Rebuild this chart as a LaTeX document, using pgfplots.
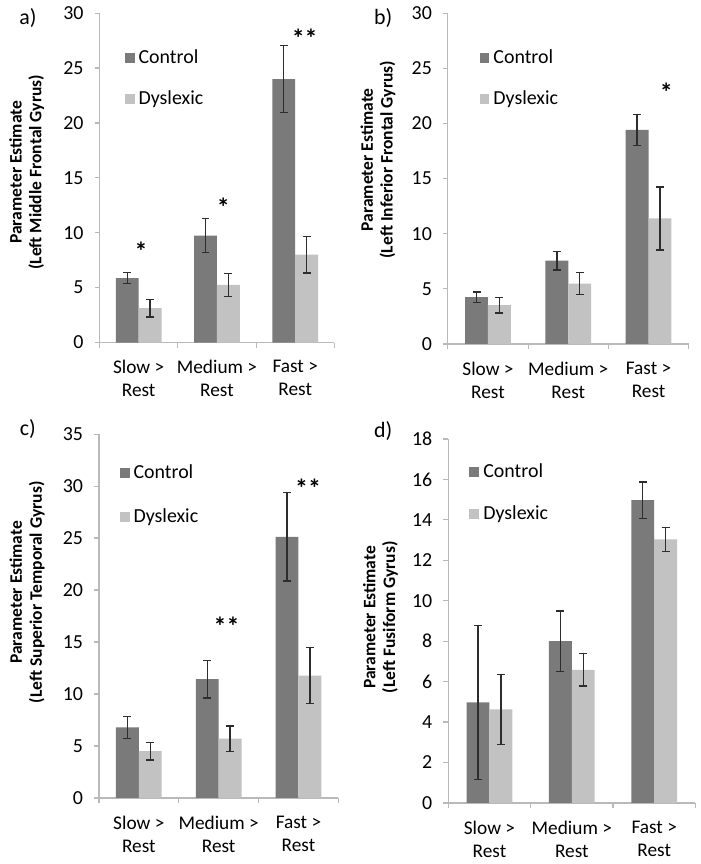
\documentclass[border=0pt]{standalone}
\usepackage{pgfplots}
\pgfplotsset{compat=1.18}
\usepackage{fontspec}
\setmainfont{Carlito}
\newfontfamily\labfont{Open Sans}
\definecolor{ctrl}{RGB}{122,122,122}
\definecolor{dysl}{RGB}{194,194,194}
\definecolor{axgray}{RGB}{185,185,185}
\definecolor{errc}{RGB}{45,45,45}

\tikzset{sigstar/.style={font=\bfseries\fontsize{13}{13}\selectfont, inner sep=0pt}}

\pgfplotsset{
  panel/.style={
    scale only axis,
    anchor=south west,
    axis x line*=bottom, axis y line*=left,
    axis line style={axgray, line width=0.6pt},
    xmin=0.5, xmax=3.5, ymin=0,
    xtick={0.5,1.5,2.5,3.5},
    x tick label as interval,
    xticklabels={{Slow >\\Rest},{Medium >\\Rest},{Fast >\\Rest}},
    x tick label style={align=center, font=\fontsize{9.7}{11.5}\selectfont, yshift=-3pt},
    y tick label style={font=\fontsize{10}{11}\selectfont, xshift=-2pt},
    /pgf/number format/assume math mode=true,
    tick align=outside, tick pos=left,
    major tick length=2.5pt,
    tick style={axgray, line width=0.6pt},
    ylabel style={font=\bfseries\fontsize{8.8}{10}\selectfont, align=center, anchor=center, rotate=0},
    ybar, bar width=11.5pt,
    error bars/y dir=both, error bars/y explicit,
    error bars/error bar style={errc, line width=0.7pt},
    error bars/error mark options={rotate=90, mark size=2pt, errc, line width=0.7pt},
    legend style={draw=none, fill=none, font=\fontsize{10}{11}\selectfont,
      anchor=north west, cells={anchor=west}},
    legend image code/.code={\fill (0pt,-2.5pt) rectangle (5pt,2.5pt);},
  },
  ctrlbar/.style={fill=ctrl, draw=none, bar shift=-5.75pt},
  dyslbar/.style={fill=dysl, draw=none, bar shift=5.75pt},
}

\begin{document}
\begin{tikzpicture}
\path (0,0) rectangle (352pt,432pt);

% a) Left Middle Frontal Gyrus
\begin{axis}[panel, at={(50pt,261.5pt)}, width=118pt, height=165.5pt,
  ymax=30, ytick={0,5,...,30},
  ylabel={Parameter Estimate\\(Left Middle Frontal Gyrus)},
  ylabel style={at={(axis description cs:-0.31,0.517)}},
  legend style={at={(axis description cs:0.08,0.915)}, row sep=8pt}]
\addplot[ctrlbar] coordinates {(1,5.87) +- (0,0.5) (2,9.74) +- (0,1.55) (3,23.98) +- (0,3.05)};
\addlegendentry{Control}
\addplot[dyslbar] coordinates {(1,3.14) +- (0,0.8) (2,5.26) +- (0,1.05) (3,8.01) +- (0,1.67)};
\addlegendentry{Dyslexic}
\node[sigstar] at (axis cs:1.03,8.3) {*};
\node[sigstar] at (axis cs:2.08,12.3) {*};
\node[sigstar] at (axis cs:3.12,27.7) {**};
\end{axis}

% b) Left Inferior Frontal Gyrus
\begin{axis}[panel, at={(225pt,260.8pt)}, width=121pt, height=166.2pt,
  ymax=30, ytick={0,5,...,30},
  ylabel={Parameter Estimate\\(Left Inferior Frontal Gyrus)},
  ylabel style={at={(axis description cs:-0.29,0.557)}},
  legend style={at={(axis description cs:0.105,0.915)}, row sep=8pt}]
\addplot[ctrlbar] coordinates {(1,4.24) +- (0,0.48) (2,7.55) +- (0,0.85) (3,19.41) +- (0,1.42)};
\addlegendentry{Control}
\addplot[dyslbar] coordinates {(1,3.52) +- (0,0.72) (2,5.48) +- (0,1.0) (3,11.38) +- (0,2.85)};
\addlegendentry{Dyslexic}
\node[sigstar] at (axis cs:3.22,22.8) {*};
\end{axis}

% c) Left Superior Temporal Gyrus
\begin{axis}[panel, at={(49.7pt,32.7pt)}, width=120.3pt, height=182.8pt,
  ymax=35, ytick={0,5,...,35},
  ylabel={Parameter Estimate\\(Left Superior Temporal Gyrus)},
  ylabel style={at={(axis description cs:-0.30,0.565)}},
  legend style={at={(axis description cs:0.06,0.94)}, row sep=10pt}]
\addplot[ctrlbar] coordinates {(1,6.8) +- (0,1.05) (2,11.43) +- (0,1.8) (3,25.12) +- (0,4.25)};
\addlegendentry{Control}
\addplot[dyslbar] coordinates {(1,4.5) +- (0,0.83) (2,5.71) +- (0,1.22) (3,11.78) +- (0,2.68)};
\addlegendentry{Dyslexic}
\node[sigstar] at (axis cs:2.1,16.5) {**};
\node[sigstar] at (axis cs:3.12,29.8) {**};
\end{axis}

% d) Left Fusiform Gyrus
\begin{axis}[panel, at={(225.2pt,30.2pt)}, width=124.2pt, height=182.9pt,
  ymax=18, ytick={0,2,...,18},
  ylabel={Parameter Estimate\\(Left Fusiform Gyrus)},
  ylabel style={at={(axis description cs:-0.274,0.51)}},
  legend style={at={(axis description cs:0.06,0.955)}, row sep=8.5pt}]
\addplot[ctrlbar] coordinates {(1,4.97) +- (0,3.8) (2,8.0) +- (0,1.5) (3,14.97) +- (0,0.9)};
\addlegendentry{Control}
\addplot[dyslbar] coordinates {(1,4.63) +- (0,1.73) (2,6.58) +- (0,0.8) (3,13.03) +- (0,0.6)};
\addlegendentry{Dyslexic}
\end{axis}

\node[font=\fontsize{11}{12}\selectfont] at (14pt,424.5pt) {a)};
\node[font=\fontsize{11}{12}\selectfont] at (192.5pt,424.5pt) {b)};
\node[font=\fontsize{11}{12}\selectfont] at (14pt,218pt) {c)};
\node[font=\fontsize{11}{12}\selectfont] at (192.5pt,217pt) {d)};
\end{tikzpicture}
\end{document}
